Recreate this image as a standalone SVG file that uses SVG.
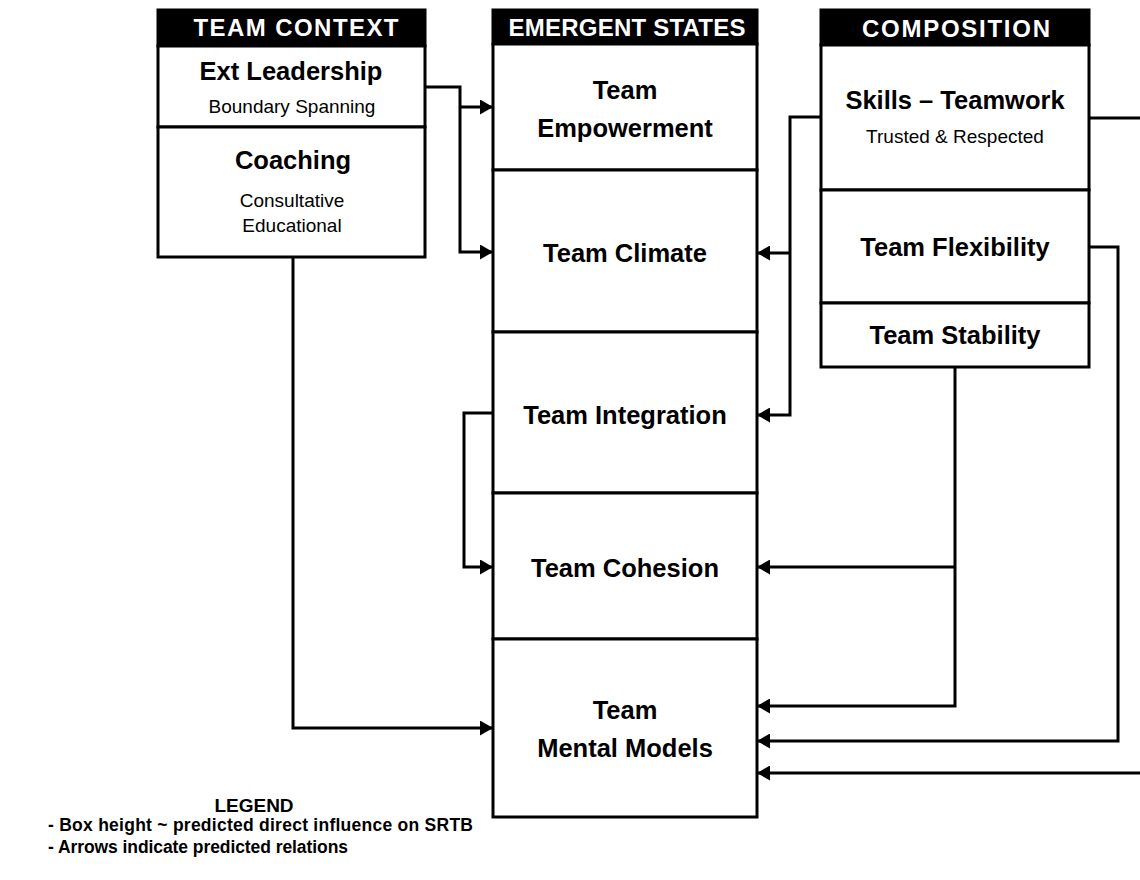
<svg xmlns="http://www.w3.org/2000/svg" width="1140" height="880" viewBox="0 0 1140 880">
<defs>
<style>
.box{fill:#fff;stroke:#000;stroke-width:3}
.hdr{fill:#000;stroke:#000;stroke-width:3}
.ht{font-family:"Liberation Sans",Arial,sans-serif;font-weight:bold;font-size:24px;fill:#fff;text-anchor:middle}
.t{font-family:"Liberation Sans",Arial,sans-serif;font-weight:bold;font-size:25.5px;fill:#000;text-anchor:middle}
.s{font-family:"Liberation Sans",Arial,sans-serif;font-size:19px;fill:#000;text-anchor:middle}
.lg{font-family:"Liberation Sans",Arial,sans-serif;font-weight:bold;font-size:17.5px;fill:#000}
.c{fill:none;stroke:#000;stroke-width:3}
</style>
<marker id="ah" viewBox="0 0 13 15" refX="13" refY="7.5" markerWidth="13" markerHeight="15" markerUnits="userSpaceOnUse" orient="auto">
<path d="M0,0 L13,7.5 L0,15 Z" fill="#000"/>
</marker>
</defs>
<rect width="1140" height="880" fill="#fff"/>

<g id="team-context">
<rect class="hdr" x="158" y="10" width="267" height="36"/>
<text class="ht" x="296" y="36" textLength="205">TEAM CONTEXT</text>
</g>
<g id="ext-leadership">
<rect class="box" x="158" y="46" width="267" height="81"/>
<text class="t" x="291" y="80">Ext Leadership</text>
<text class="s" x="292" y="113">Boundary Spanning</text>
</g>
<g id="coaching">
<rect class="box" x="158" y="127" width="267" height="130"/>
<text class="t" x="293" y="169">Coaching</text>
<text class="s" x="292" y="207">Consultative</text>
<text class="s" x="292" y="232">Educational</text>
</g>

<g id="emergent-states">
<rect class="hdr" x="493" y="10" width="264" height="34"/>
<text class="ht" x="627" y="36" textLength="237">EMERGENT STATES</text>
</g>
<g id="team-empowerment">
<rect class="box" x="493" y="44" width="264" height="126"/>
<text class="t" x="625" y="99">Team</text>
<text class="t" x="625" y="137">Empowerment</text>
</g>
<g id="team-climate">
<rect class="box" x="493" y="170" width="264" height="162"/>
<text class="t" x="625" y="262">Team Climate</text>
</g>
<g id="team-integration">
<rect class="box" x="493" y="332" width="264" height="161"/>
<text class="t" x="625" y="424">Team Integration</text>
</g>
<g id="team-cohesion">
<rect class="box" x="493" y="493" width="264" height="146"/>
<text class="t" x="625" y="577">Team Cohesion</text>
</g>
<g id="team-mental-models">
<rect class="box" x="493" y="639" width="264" height="178"/>
<text class="t" x="625" y="719">Team</text>
<text class="t" x="625" y="757">Mental Models</text>
</g>

<g id="composition">
<rect class="hdr" x="821" y="10" width="268" height="35"/>
<text class="ht" x="956" y="37" textLength="188">COMPOSITION</text>
</g>
<g id="skills-teamwork">
<rect class="box" x="821" y="45" width="268" height="145"/>
<text class="t" x="955" y="109">Skills – Teamwork</text>
<text class="s" x="955" y="143">Trusted &amp; Respected</text>
</g>
<g id="team-flexibility">
<rect class="box" x="821" y="190" width="268" height="113"/>
<text class="t" x="955" y="256">Team Flexibility</text>
</g>
<g id="team-stability">
<rect class="box" x="821" y="303" width="268" height="64"/>
<text class="t" x="955" y="344">Team Stability</text>
</g>

<g id="connectors">
<path class="c" d="M425,87 H460 V252 H493" marker-end="url(#ah)"/>
<path class="c" d="M460,107 H493" marker-end="url(#ah)"/>
<path class="c" d="M293,257 V728 H493" marker-end="url(#ah)"/>
<path class="c" d="M493,413 H464 V567 H493" marker-end="url(#ah)"/>
<path class="c" d="M821,117 H790 V415 H757" marker-end="url(#ah)"/>
<path class="c" d="M790,253 H757" marker-end="url(#ah)"/>
<path class="c" d="M1089,118 H1142"/>
<path class="c" d="M1142,773 H757" marker-end="url(#ah)"/>
<path class="c" d="M1089,247 H1118 V741 H757" marker-end="url(#ah)"/>
<path class="c" d="M955,367 V706 H757" marker-end="url(#ah)"/>
<path class="c" d="M955,567 H757" marker-end="url(#ah)"/>
</g>

<g id="legend">
<text class="lg" x="254" y="812" text-anchor="middle" style="font-size:19px">LEGEND</text>
<text class="lg" x="48" y="831" textLength="425">- Box height ~ predicted direct influence on SRTB</text>
<text class="lg" x="48" y="853" textLength="300">- Arrows indicate predicted relations</text>
</g>
</svg>
